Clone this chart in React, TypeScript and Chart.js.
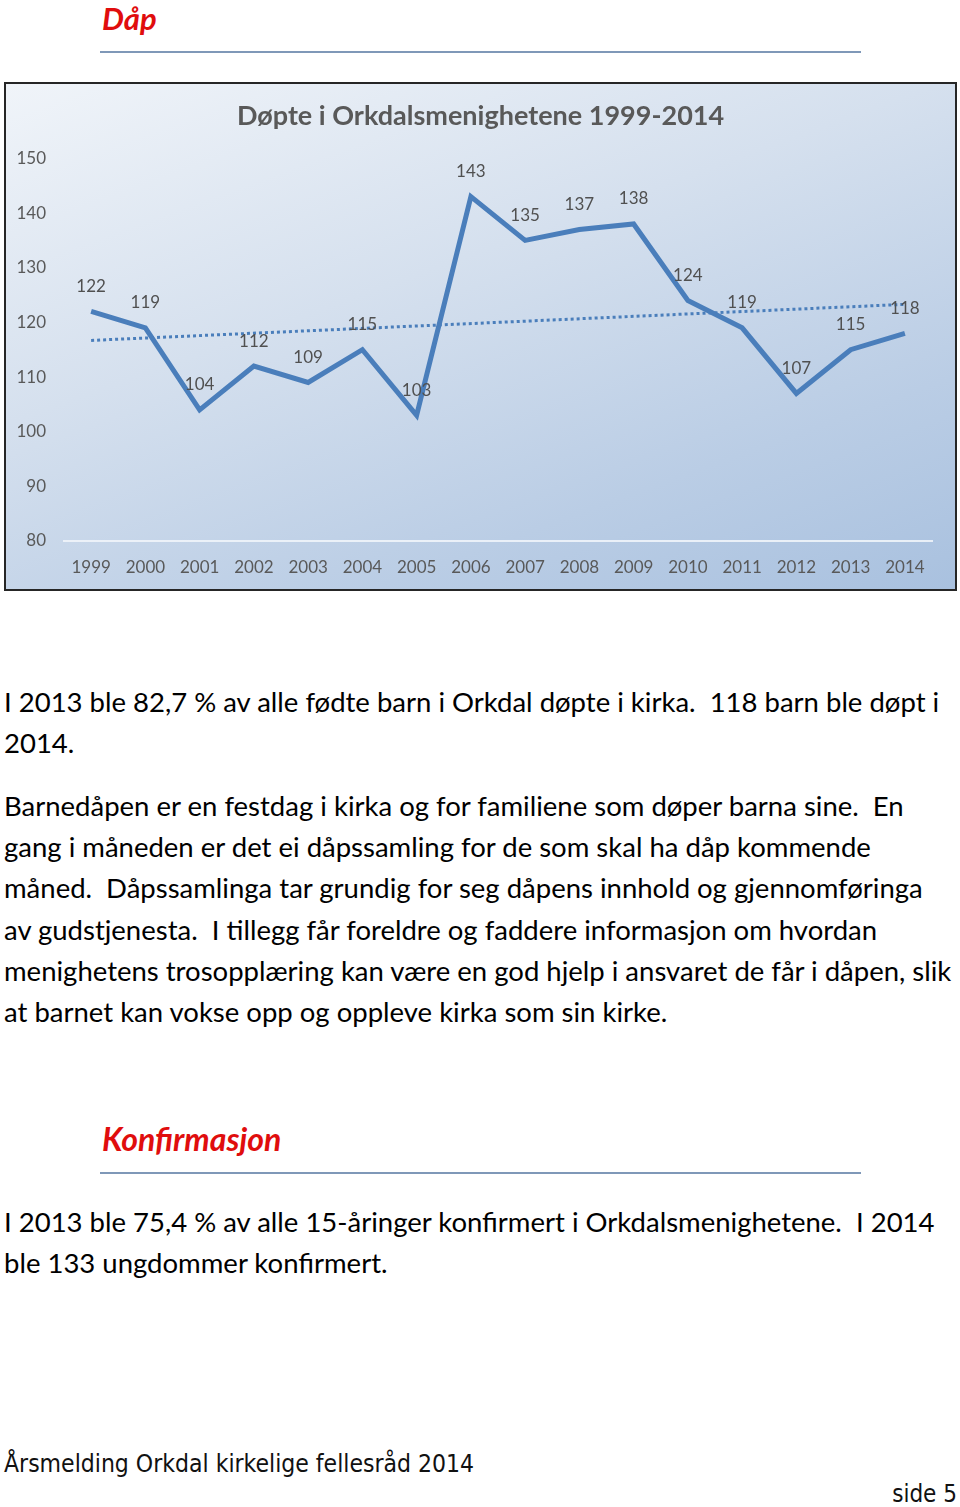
import React, { useEffect, useRef } from "react";
import { Chart, registerables } from "chart.js";

Chart.register(...registerables);

const years = ["1999","2000","2001","2002","2003","2004","2005","2006","2007","2008","2009","2010","2011","2012","2013","2014"];
const baptized = [122, 119, 104, 112, 109, 115, 103, 143, 135, 137, 138, 124, 119, 107, 115, 118];
// Excel linear trendline, endpoints
const trendStart = 116.7;
const trendEnd = 123.3;
const chartTitle = "Døpte i Orkdalsmenighetene 1999-2014";
const yMin = 80;
const yMax = 150;
const yStep = 10;

const bodyLines1 = [
  "I 2013 ble 82,7 % av alle fødte barn i Orkdal døpte i kirka.  118 barn ble døpt i",
  "2014.",
];
const bodyLines2 = [
  "Barnedåpen er en festdag i kirka og for familiene som døper barna sine.  En",
  "gang i måneden er det ei dåpssamling for de som skal ha dåp kommende",
  "måned.  Dåpssamlinga tar grundig for seg dåpens innhold og gjennomføringa",
  "av gudstjenesta.  I tillegg får foreldre og faddere informasjon om hvordan",
  "menighetens trosopplæring kan være en god hjelp i ansvaret de får i dåpen, slik",
  "at barnet kan vokse opp og oppleve kirka som sin kirke.",
];
const bodyLines3 = [
  "I 2013 ble 75,4 % av alle 15-åringer konfirmert i Orkdalsmenighetene.  I 2014",
  "ble 133 ungdommer konfirmert.",
];

const FONT = "Lato, 'Open Sans', sans-serif";

const labelPlugin = {
  id: "pointLabels",
  afterDatasetsDraw(chart: any) {
    const meta = chart.getDatasetMeta(0);
    const ctx = chart.ctx;
    ctx.save();
    ctx.font = "17px " + FONT;
    ctx.fillStyle = "#505050";
    ctx.textAlign = "center";
    ctx.textBaseline = "middle";
    meta.data.forEach((pt: any, i: number) => {
      ctx.fillText(String(baptized[i]), pt.x, pt.y - 25);
    });
    ctx.restore();
  },
};

function DaapChart() {
  const ref = useRef<HTMLCanvasElement>(null);
  useEffect(() => {
    if (!ref.current) return;
    const trend = years.map((_, i) => (i === 0 ? trendStart : i === years.length - 1 ? trendEnd : null));
    const chart = new Chart(ref.current, {
      type: "line",
      data: {
        labels: years,
        datasets: [
          {
            data: baptized,
            borderColor: "#4a7ebb",
            borderWidth: 5,
            pointRadius: 0,
            tension: 0,
            borderJoinStyle: "miter",
          },
          {
            data: trend,
            borderColor: "#4a7ebb",
            borderWidth: 3,
            borderDash: [3, 3],
            pointRadius: 0,
            spanGaps: true,
          },
        ],
      },
      options: {
        responsive: false,
        animation: false,
        layout: { padding: 0 },
        plugins: {
          legend: { display: false },
          tooltip: { enabled: false },
          title: {
            display: true,
            text: chartTitle,
            color: "#595959",
            font: { family: FONT, size: 27, weight: "bold" },
            padding: { top: 16, bottom: 26 },
          },
        },
        scales: {
          x: {
            offset: true,
            grid: { display: false },
            border: { display: true, color: "rgba(240,244,250,0.9)", width: 2 },
            ticks: { color: "#595959", font: { family: FONT, size: 17 }, padding: 8, maxRotation: 0 },
            afterFit: (s: any) => { s.height = 48; },
          },
          y: {
            min: yMin,
            max: yMax,
            grid: { display: false },
            border: { display: false },
            ticks: { stepSize: yStep, color: "#595959", font: { family: FONT, size: 17 }, padding: 10 },
            afterFit: (s: any) => { s.width = 58; },
          },
          yRightSpace: {
            position: "right",
            display: true,
            min: yMin,
            max: yMax,
            grid: { display: false },
            border: { display: false },
            ticks: { display: false },
            afterFit: (s: any) => { s.width = 23; },
          },
        },
      },
      plugins: [labelPlugin],
    } as any);
    return () => chart.destroy();
  }, []);
  return <canvas ref={ref} width={949} height={505} style={{ display: "block", width: 949, height: 505 }} />;
}

const textStyle: React.CSSProperties = {
  position: "absolute",
  left: 4,
  fontFamily: FONT,
  fontSize: 27.5,
  lineHeight: "41px",
  color: "#000",
  whiteSpace: "pre",
};

function Lines({ lines, top }: { lines: string[]; top: number }) {
  return (
    <>
      {lines.map((l, i) => (
        <div key={i} style={{ ...textStyle, top: top + i * 41.2 - 21 }}>{l}</div>
      ))}
    </>
  );
}

function Heading({ text, top, lineTop, size }: { text: string; top: number; lineTop: number; size: number }) {
  return (
    <>
      <div style={{ position: "absolute", left: 102, top: top - 19, fontFamily: FONT, fontSize: size, fontWeight: "bold", fontStyle: "italic", color: "#e00d0d", lineHeight: "38px" }}>{text}</div>
      <div style={{ position: "absolute", left: 100, top: lineTop, width: 761, height: 2, background: "#7f98b8" }} />
    </>
  );
}

export default function App() {
  return (
    <div style={{ position: "absolute", left: 0, top: 0, width: 960, height: 1507, overflow: "hidden" }}>
      <Heading text="Dåp" top={18} lineTop={51} size={31} />
      <div style={{ position: "absolute", left: 4, top: 82, width: 953, height: 509, boxSizing: "border-box", border: "2px solid #262626", background: "linear-gradient(160deg, #f0f4f9 0%, #d5e0ee 40%, #bacde5 75%, #a9c1df 100%)" }}>
        <DaapChart />
      </div>
      <Lines lines={bodyLines1} top={702} />
      <Lines lines={bodyLines2} top={806} />
      <Heading text="Konfirmasjon" top={1139} lineTop={1172} size={32} />
      <Lines lines={bodyLines3} top={1222} />
      <div style={{ position: "absolute", left: 4, top: 1449, fontFamily: "'Liberation Sans Narrow', 'DejaVu Sans Condensed', sans-serif", fontSize: 24.5, lineHeight: "30px", color: "#111" }}>Årsmelding Orkdal kirkelige fellesråd 2014</div>
      <div style={{ position: "absolute", right: 3, top: 1479, fontFamily: "'Liberation Sans Narrow', 'DejaVu Sans Condensed', sans-serif", fontSize: 24, lineHeight: "30px", color: "#111" }}>side 5</div>
    </div>
  );
}
